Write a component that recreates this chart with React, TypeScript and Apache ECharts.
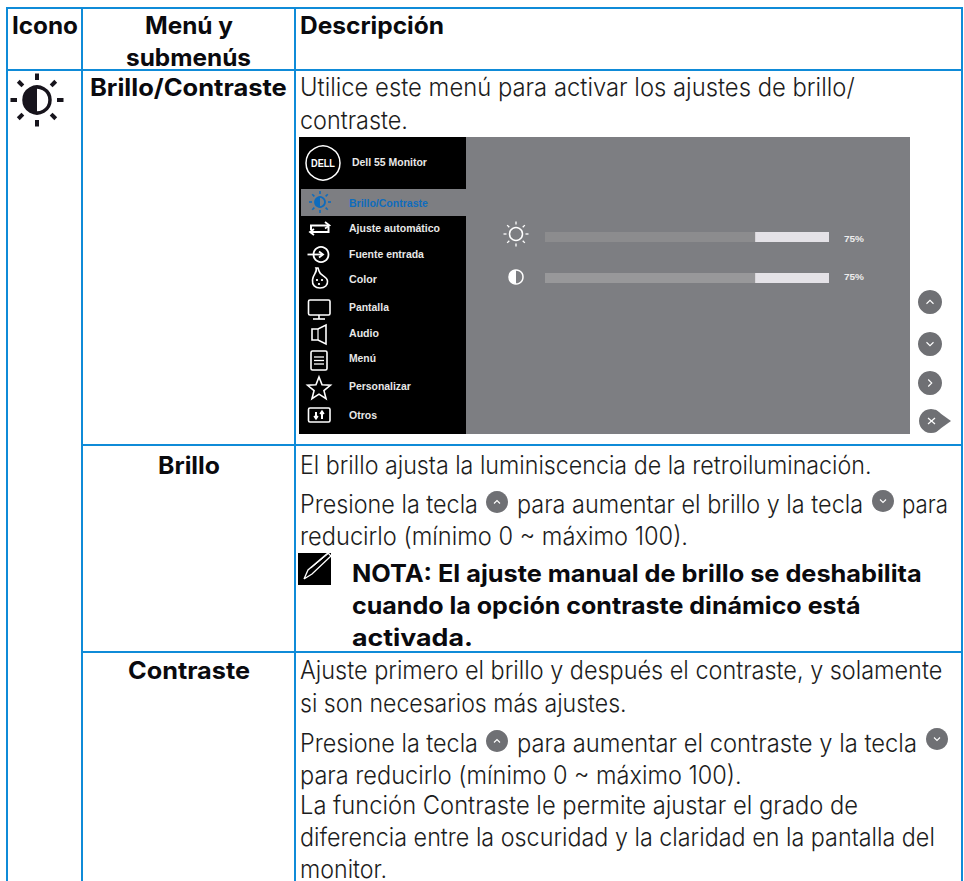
import React, { useEffect, useRef } from "react";
import * as echarts from "echarts";

// ---- content ----
const headerLabels = ["Icono", "Menú y", "submenús", "Descripción"];
const rowLabels = ["Brillo/Contraste", "Brillo", "Contraste"];
const descriptionLines = [
  "Utilice este menú para activar los ajustes de brillo/",
  "contraste.",
  "El brillo ajusta la luminiscencia de la retroiluminación.",
  "Presione la tecla",
  "para aumentar el brillo y la tecla",
  "para",
  "reducirlo (mínimo 0 ~ máximo 100).",
  "Ajuste primero el brillo y después el contraste, y solamente",
  "si son necesarios más ajustes.",
  "Presione la tecla",
  "para aumentar el contraste y la tecla",
  "para reducirlo (mínimo 0 ~ máximo 100).",
  "La función Contraste le permite ajustar el grado de",
  "diferencia entre la oscuridad y la claridad en la pantalla del",
  "monitor.",
];
const noteLines = [
  "NOTA: El ajuste manual de brillo se deshabilita",
  "cuando la opción contraste dinámico está",
  "activada.",
];
const osdTitle = "Dell 55 Monitor";
const osdMenu = ["Brillo/Contraste", "Ajuste automático", "Fuente entrada", "Color", "Pantalla", "Audio", "Menú", "Personalizar", "Otros"];
const sliderValues = [74, 74];
const sliderLabels = ["75%", "75%"];

// ---- layout: [x start, x end, baseline] ----
const headerLayout = [[12, 78, 33], [145, 233, 33], [126, 251, 65], [300, 444, 33]];
const rowLayout = [[90, 287, 95], [158, 220, 473], [128, 250, 678]];
const descLayout = [
  [300, 855, 95], [300, 408, 128], [300, 872, 473], [300, 478, 512], [517, 863, 512], [902, 948, 512], [300, 688, 544],
  [300, 943, 678], [300, 627, 711], [300, 478, 751], [517, 917, 751], [300, 742, 783], [300, 858, 813], [300, 935, 845], [300, 387, 877],
];
const noteLayout = [[352, 922, 581], [352, 861, 613], [352, 473, 645]];
const osdMenuLayout = [[349, 428, 203], [349, 440, 228], [349, 424, 254], [349, 377, 279], [349, 389, 307], [349, 379, 333], [349, 376, 358], [349, 411, 386], [349, 377, 415]];

const BLUE = "#0f8bd8";
const INK = "#1c1c20";
const PANEL = "#7d7e82";
const BTN = "#6f7074";
const SERIF = "Inter, 'Noto Sans', sans-serif";
const ARIAL = "'Liberation Sans', Arial, sans-serif";

const canvas = document.createElement("canvas");
const ctx = canvas.getContext("2d")!;

function fitted(text: string, x1: number, x2: number, base: number, size: number, weight: number | string, family: string, fill: string, z = 5) {
  ctx.font = `${weight} ${size}px ${family}`;
  const w = ctx.measureText(text).width;
  return {
    type: "text", x: x1, y: base - 0.32 * size, scaleX: (x2 - x1) / w, z,
    style: { text, fontFamily: family, fontSize: size, fontWeight: weight, fill, align: "left", verticalAlign: "middle" },
  };
}
const line = (x1: number, y1: number, x2: number, y2: number, stroke: string, lineWidth: number, z = 3) => ({
  type: "line", z, shape: { x1, y1, x2, y2 }, style: { stroke, lineWidth },
});
const rect = (x: number, y: number, width: number, height: number, fill: string, z = 1) => ({
  type: "rect", z, shape: { x, y, width, height }, style: { fill },
});
const ring = (cx: number, cy: number, r: number, stroke: string, lineWidth: number, fill = "none", z = 4) => ({
  type: "circle", z, shape: { cx, cy, r }, style: { stroke, lineWidth, fill },
});
const poly = (points: number[][], stroke: string, lineWidth: number, z = 4) => ({
  type: "polyline", z, shape: { points }, style: { stroke, lineWidth, fill: "none" },
});
const polygon = (points: number[][], style: any, z = 4) => ({ type: "polygon", z, shape: { points }, style });

function sun(cx: number, cy: number, r: number, r1: number, r2: number, color: string, lw: number, rayW: number, half: boolean) {
  const out: any[] = [ring(cx, cy, r, color, lw)];
  if (half) {
    out.push({ type: "sector", z: 4, shape: { cx, cy, r, r0: 0, startAngle: Math.PI / 2, endAngle: (3 * Math.PI) / 2 }, style: { fill: color } });
  }
  for (let i = 0; i < 8; i++) {
    const a = (i * Math.PI) / 4;
    out.push(line(cx + r1 * Math.cos(a), cy + r1 * Math.sin(a), cx + r2 * Math.cos(a), cy + r2 * Math.sin(a), color, rayW, 4));
  }
  return out;
}

function chevronButton(cx: number, cy: number, r: number, dir: "up" | "down" | "right", s: number) {
  const pts =
    dir === "up" ? [[cx - s, cy + s * 0.5], [cx, cy - s * 0.5], [cx + s, cy + s * 0.5]]
    : dir === "down" ? [[cx - s, cy - s * 0.5], [cx, cy + s * 0.5], [cx + s, cy - s * 0.5]]
    : [[cx - s * 0.5, cy - s], [cx + s * 0.5, cy], [cx - s * 0.5, cy + s]];
  return [
    { type: "circle", z: 4, shape: { cx, cy, r }, style: { fill: BTN } },
    poly(pts, "#ffffff", 1.1, 5),
  ];
}

echarts.graphic.registerShape(
  "drop",
  echarts.graphic.extendPath("M316 268 C318 272 313 274 312.5 280 C312 285 315 288 320 288 C325 288 328 285 327.5 281 C327 276 320 276 319 271 L318 268 Z", {})
);

function buildGraphics() {
  const g: any[] = [];
  // table rules
  g.push(line(7, 8, 963, 8, BLUE, 2));
  g.push(line(7, 70, 963, 70, BLUE, 2));
  g.push(line(82, 445, 963, 445, BLUE, 2));
  g.push(line(82, 652, 963, 652, BLUE, 2));
  g.push(line(7, 7, 7, 881, BLUE, 2));
  g.push(line(82, 7, 82, 881, BLUE, 2));
  g.push(line(295, 7, 295, 881, BLUE, 2));
  g.push(line(962, 7, 962, 881, BLUE, 2));

  // texts
  headerLabels.forEach((t, i) => { const [a, b, c] = headerLayout[i]; g.push(fitted(t, a, b, c, 24, 700, SERIF, "#0a0a0e")); });
  rowLabels.forEach((t, i) => { const [a, b, c] = rowLayout[i]; g.push(fitted(t, a, b, c, 24, 700, SERIF, "#0a0a0e")); });
  descriptionLines.forEach((t, i) => { const [a, b, c] = descLayout[i]; g.push(fitted(t, a, b, c, 25, 300, SERIF, INK)); });
  noteLines.forEach((t, i) => { const [a, b, c] = noteLayout[i]; g.push(fitted(t, a, b, c, 24, 700, SERIF, "#0a0a0e")); });

  // big sun
  g.push(...sun(37, 100, 13, 20, 26.5, "#17141c", 3.5, 4, true));

  // OSD panels
  g.push(rect(299, 137, 167, 297, "#000000"));
  g.push(rect(466, 137, 444, 297, PANEL));
  g.push(rect(301, 189, 165, 27, PANEL, 2));
  g.push(ring(323, 163, 17, "#ffffff", 1.5));
  g.push(fitted("DELL", 311, 335, 167, 11, 700, ARIAL, "#ffffff"));
  g.push(fitted(osdTitle, 352, 427, 166, 10, 700, ARIAL, "#e8e8e8"));
  osdMenu.forEach((t, i) => {
    const [a, b, c] = osdMenuLayout[i];
    g.push(fitted(t, a, b, c + 3.5, 10, 700, ARIAL, i === 0 ? "#0f6cbd" : "#e8e8e8"));
  });

  // menu icons
  g.push(...sun(320, 202, 5, 8, 11, "#0f6cbd", 1.8, 1.6, true));
  g.push(poly([[325, 222], [329.5, 225.5], [325, 228.5]], "#fff", 1.8));
  g.push(poly([[311, 230], [311, 225.5], [329, 225.5]], "#fff", 2));
  g.push(poly([[314, 229], [310, 232], [314, 235]], "#fff", 1.8));
  g.push(poly([[328.5, 227], [328.5, 232], [310.5, 232]], "#fff", 2));
  g.push(ring(321, 254.5, 7.5, "#fff", 1.8, "#000"));
  g.push(line(307.5, 254.5, 322, 254.5, "#fff", 1.8, 5));
  g.push(poly([[319, 251.5], [323, 254.5], [319, 257.5]], "#fff", 1.8, 5));
  g.push({ type: "drop", z: 4, x: 0, y: 0, style: { stroke: "#fff", lineWidth: 1.6, fill: "#000" } });
  g.push({ type: "circle", z: 5, shape: { cx: 317, cy: 280, r: 1.1 }, style: { fill: "#fff" } });
  g.push({ type: "circle", z: 5, shape: { cx: 322, cy: 280, r: 1.1 }, style: { fill: "#fff" } });
  g.push({ type: "circle", z: 5, shape: { cx: 319, cy: 284, r: 1.1 }, style: { fill: "#fff" } });
  g.push({ type: "rect", z: 4, shape: { x: 308.5, y: 300, width: 21.5, height: 15, r: 1.5 }, style: { stroke: "#fff", lineWidth: 1.6, fill: "none" } });
  g.push(line(319, 315, 319, 319, "#fff", 1.6, 4));
  g.push(line(313, 319, 325, 319, "#fff", 1.6, 4));
  g.push(polygon([[312, 329], [318, 329], [326, 325], [326, 344], [318, 340], [312, 340]], { stroke: "#fff", lineWidth: 1.6, fill: "none" }));
  g.push(line(318, 329, 318, 340, "#fff", 1.2, 4));
  g.push({ type: "rect", z: 4, shape: { x: 311, y: 351, width: 16, height: 19, r: 1.5 }, style: { stroke: "#fff", lineWidth: 1.6, fill: "none" } });
  [357, 360.5, 364].forEach((y) => g.push(line(314, y, 324, y, "#fff", 1.3, 4)));
  const star: number[][] = [];
  for (let i = 0; i < 10; i++) {
    const a = -Math.PI / 2 + (i * Math.PI) / 5;
    const r = i % 2 === 0 ? 12 : 5.2;
    star.push([319 + r * Math.cos(a), 389 + r * Math.sin(a)]);
  }
  g.push(polygon(star, { stroke: "#fff", lineWidth: 1.6, fill: "none" }));
  g.push({ type: "rect", z: 4, shape: { x: 308.5, y: 408, width: 21.5, height: 14, r: 1.5 }, style: { stroke: "#fff", lineWidth: 1.6, fill: "none" } });
  g.push(line(316, 412, 316, 419, "#fff", 2, 4));
  g.push(line(322, 411, 322, 419, "#fff", 2, 4));
  g.push(poly([[314, 416], [316, 419], [318, 416]], "#fff", 1.4));
  g.push(poly([[320, 414], [322, 411], [324, 414]], "#fff", 1.4));

  // sliders
  const barX = 545, barW = 284, barYs = [232, 273], barDark = ["#8c8c8e", "#98989a"], labelBases = [242, 280];
  sliderValues.forEach((v, i) => {
    g.push(rect(barX, barYs[i], barW, 10, "#e4e2e7", 3));
    g.push(rect(barX, barYs[i], (barW * v) / 100, 10, barDark[i], 4));
    g.push(fitted(sliderLabels[i], 844, 864, labelBases[i], 9.5, 700, ARIAL, "#ececec"));
  });
  g.push(...sun(516, 234, 6.5, 9.5, 12.5, "#ffffff", 1.5, 1.3, false));
  g.push({ type: "circle", z: 4, shape: { cx: 516, cy: 277, r: 7 }, style: { fill: PANEL, stroke: "#fff", lineWidth: 1.5 } });
  g.push({ type: "sector", z: 5, shape: { cx: 516, cy: 277, r: 7, r0: 0, startAngle: Math.PI / 2, endAngle: (3 * Math.PI) / 2 }, style: { fill: "#fff" } });

  // right side buttons
  g.push(...chevronButton(930, 302, 12, "up", 3.5));
  g.push(...chevronButton(930, 344, 12, "down", 3.5));
  g.push(...chevronButton(930, 383, 12, "right", 3.5));
  g.push({ type: "circle", z: 4, shape: { cx: 931, cy: 421, r: 12 }, style: { fill: BTN } });
  g.push(polygon([[935, 409.5], [951, 421], [935, 432.5]], { fill: BTN }));
  g.push(line(928, 418, 935, 424, "#fff", 1.2, 5));
  g.push(line(935, 418, 928, 424, "#fff", 1.2, 5));

  // inline buttons
  g.push(...chevronButton(497, 502, 11, "up", 3));
  g.push(...chevronButton(883, 501, 11, "down", 3));
  g.push(...chevronButton(497, 741, 11, "up", 3));
  g.push(...chevronButton(937, 739, 11, "down", 3));

  // note icon
  g.push(rect(298, 553, 33, 32, "#000000", 2));
  g.push(poly([[304, 579], [308, 570], [328, 553], [331, 556], [312, 574], [304, 579]], "#ffffff", 1.3));
  g.push(line(311, 568, 329, 553, "#ffffff", 1, 4));
  return g;
}

export default function App() {
  const ref = useRef<HTMLDivElement>(null);
  useEffect(() => {
    const chart = echarts.init(ref.current!, null, { renderer: "svg" });
    chart.setOption({ animation: false, backgroundColor: "#ffffff", graphic: { elements: buildGraphics() } });
    return () => chart.dispose();
  }, []);
  return <div ref={ref} style={{ position: "absolute", left: 0, top: 0, width: 964, height: 881 }} />;
}
